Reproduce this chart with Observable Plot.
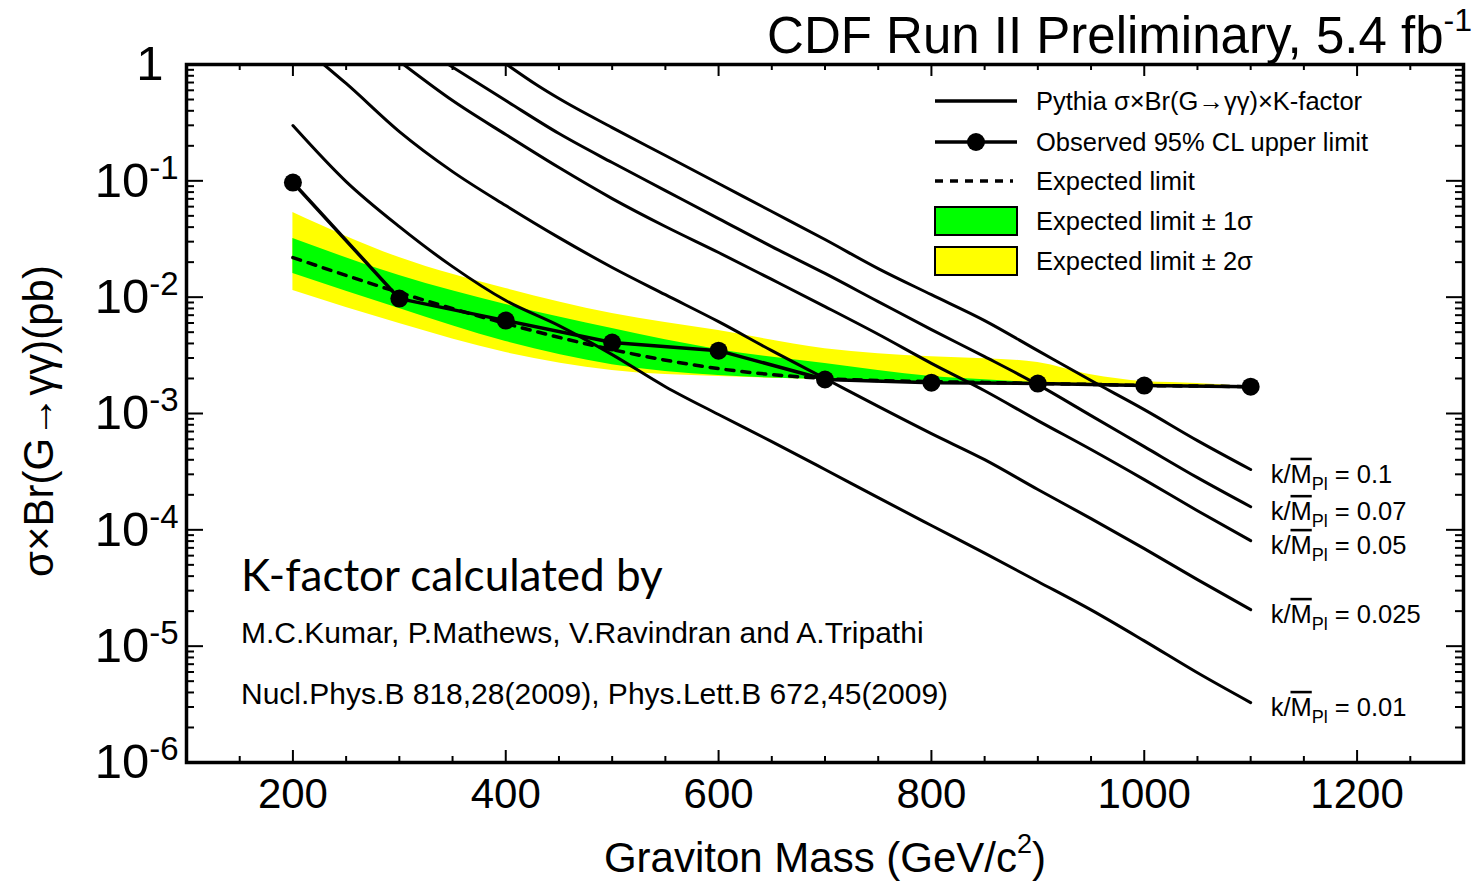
<!DOCTYPE html>
<html><head><meta charset="utf-8">
<script src="https://cdn.jsdelivr.net/npm/d3@7"></script>
<script src="https://cdn.jsdelivr.net/npm/@observablehq/plot@0.6"></script>
<style>
body{margin:0;background:#fff;}
svg{overflow:visible}
</style></head><body><div id="chart"></div>
<script>
// ---- Observed 95% CL upper limit ----
const obsMass  = [200, 300, 400, 500, 600, 700, 800, 900, 1000, 1100];
const obsLimit = [0.0967, 0.00972, 0.00629, 0.00407, 0.00347, 0.00196, 0.00184, 0.00181, 0.00174, 0.00170];

// ---- Expected limit and bands ----
const bandMass = [200, 300, 400, 500, 600, 700, 800, 850, 900, 950, 1000, 1050, 1100];
const expLimit = [0.0219, 0.01096, 0.00593, 0.00354, 0.00243, 0.00200, 0.00188, 0.00185, 0.00181, 0.00178, 0.00174, 0.00172, 0.00170];
const plus1    = [0.0319, 0.01534, 0.00863, 0.00537, 0.00354, 0.00269, 0.00208, 0.00195, 0.00184, 0.00179, 0.00175, 0.00172, 0.00170];
const minus1   = [0.01595, 0.00798, 0.00415, 0.00263, 0.00212, 0.00196, 0.00184, 0.00182, 0.00181, 0.00178, 0.00174, 0.00172, 0.00170];
const plus2    = [0.0534, 0.0219, 0.01186, 0.00723, 0.00516, 0.00361, 0.00308, 0.00296, 0.00274, 0.00215, 0.00188, 0.00181, 0.00170];
const minus2   = [0.0114, 0.00593, 0.00334, 0.00234, 0.00208, 0.00196, 0.00184, 0.00182, 0.00181, 0.00178, 0.00174, 0.00172, 0.00170];

// ---- Pythia sigma x Br x K-factor curves ----
const k01Mass  = [401, 430, 450, 500, 550, 600, 650, 700, 750, 800, 850, 900, 950, 1000, 1050, 1100];
const k01Xsec  = [1.0, 0.660, 0.510, 0.287, 0.165, 0.0948, 0.0545, 0.0313, 0.0176, 0.0105, 0.00629, 0.00347, 0.00192, 0.00108, 5.85e-4, 3.30e-4];
const k007Mass = [346, 400, 450, 500, 550, 600, 650, 700, 750, 800, 850, 900, 950, 1000, 1050, 1100];
const k007Xsec = [1.0, 0.490, 0.255, 0.1436, 0.0825, 0.0474, 0.0272, 0.0160, 0.00916, 0.00526, 0.00308, 0.00177, 9.59e-4, 5.19e-4, 2.81e-4, 1.58e-4];
const k005Mass = [304, 350, 400, 450, 500, 550, 600, 650, 700, 750, 800, 850, 900, 950, 1000, 1050, 1100];
const k005Xsec = [1.0, 0.490, 0.250, 0.130, 0.0704, 0.0405, 0.0242, 0.0142, 0.00830, 0.00480, 0.00270, 0.00157, 8.69e-4, 4.90e-4, 2.70e-4, 1.46e-4, 8.07e-5];
const k0025Mass = [229, 250, 300, 350, 400, 450, 500, 550, 600, 650, 700, 750, 800, 850, 900, 950, 1000, 1050, 1100];
const k0025Xsec = [1.0, 0.687, 0.265, 0.120, 0.0613, 0.0325, 0.0180, 0.0105, 0.00616, 0.00347, 0.00200, 0.00115, 6.71e-4, 4.01e-4, 2.22e-4, 1.25e-4, 6.89e-5, 3.73e-5, 2.06e-5];
const k001Mass = [200, 250, 300, 350, 400, 450, 500, 550, 600, 650, 700, 750, 800, 850, 900, 950, 1000, 1050, 1100];
const k001Xsec = [0.299, 0.0986, 0.0404, 0.0183, 0.00935, 0.00570, 0.00321, 0.00170, 9.8e-4, 5.73e-4, 3.30e-4, 1.89e-4, 1.09e-4, 6.30e-5, 3.60e-5, 2.05e-5, 1.11e-5, 5.90e-6, 3.27e-6];
const kLabels = ["0.1", "0.07", "0.05", "0.025", "0.01"];

// ---- Axis ticks ----
const xLabelTicks = [200, 400, 600, 800, 1000, 1200];
const xMinorTicks = [150, 250, 300, 350, 450, 500, 550, 650, 700, 750, 850, 900, 950, 1050, 1100, 1150, 1250];
const yDecades = [1, 1e-1, 1e-2, 1e-3, 1e-4, 1e-5, 1e-6];
const yMinorMult = [2, 3, 4, 5, 6, 7, 8, 9];

// ---- build tables ----
const obs = obsMass.map((m, i) => ({m, v: obsLimit[i]}));
const band = bandMass.map((m, i) => ({m, exp: expLimit[i], p1: plus1[i], m1: minus1[i], p2: plus2[i], m2: minus2[i]}));
const curveSets = [[k01Mass, k01Xsec], [k007Mass, k007Xsec], [k005Mass, k005Xsec], [k0025Mass, k0025Xsec], [k001Mass, k001Xsec]];
const theory = curveSets.flatMap(([ms, vs], j) => ms.map((m, i) => ({k: kLabels[j], m, v: vs[i]})));
const curveEnds = curveSets.map(([ms, vs], j) => ({k: kLabels[j], m: ms[ms.length - 1], v: vs[vs.length - 1]}));
const yMinor = yDecades.slice(1).flatMap(d => yMinorMult.map(k => k * d));

const W = 1477, H = 881, mT = 64, mB = 119, mL = 186, mR = 14;
const innerH = H - mT - mB, innerW = W - mL - mR;
const FONT = "Liberation Sans, Arial, Helvetica, sans-serif";

const plot = Plot.plot({
  width: W, height: H,
  marginTop: mT, marginBottom: mB, marginLeft: mL, marginRight: mR,
  style: {fontFamily: FONT, background: "white", color: "black"},
  x: {domain: [100, 1300]},
  y: {type: "log", domain: [1e-6, 1]},
  marks: [
    Plot.areaY(band, {x: "m", y1: "m2", y2: "p2", fill: "#ffff00", curve: "monotone-x"}),
    Plot.areaY(band, {x: "m", y1: "m1", y2: "p1", fill: "#00ff00", curve: "monotone-x"}),
    Plot.line(theory, {x: "m", y: "v", z: "k", stroke: "black", strokeWidth: 3, curve: "monotone-x", clip: true}),
    Plot.line(band, {x: "m", y: "exp", stroke: "black", strokeWidth: 3.5, strokeDasharray: "8,8", curve: "monotone-x"}),
    Plot.line(obs, {x: "m", y: "v", stroke: "black", strokeWidth: 3.5}),
    Plot.dot(obs, {x: "m", y: "v", r: 9, fill: "black", stroke: "none"}),
    Plot.text(curveEnds, {x: "m", y: "v", text: d => "k/M_Pl = " + d.k, dx: 20, dy: 5, textAnchor: "start", fontSize: 25.5, ariaLabel: "klabel"}),
    // ticks (inward)
    Plot.ruleX(xLabelTicks, {x: d => d, insetTop: innerH - 12, strokeWidth: 2}),
    Plot.ruleX(xLabelTicks, {x: d => d, insetBottom: innerH - 12, strokeWidth: 2}),
    Plot.ruleX(xMinorTicks, {x: d => d, insetTop: innerH - 6, strokeWidth: 2}),
    Plot.ruleX(xMinorTicks, {x: d => d, insetBottom: innerH - 6, strokeWidth: 2}),
    Plot.ruleY(yDecades, {y: d => d, insetRight: innerW - 17, strokeWidth: 2}),
    Plot.ruleY(yDecades, {y: d => d, insetLeft: innerW - 17, strokeWidth: 2}),
    Plot.ruleY(yMinor, {y: d => d, insetRight: innerW - 8, strokeWidth: 2}),
    Plot.ruleY(yMinor, {y: d => d, insetLeft: innerW - 8, strokeWidth: 2}),
    Plot.frame({stroke: "black", strokeWidth: 3.5}),
    Plot.axisX(xLabelTicks, {anchor: "bottom", tickSize: 0, tickPadding: 16, fontSize: 42, label: null, tickFormat: d => String(d)}),
    Plot.axisY(yDecades, {anchor: "left", tickSize: 0, tickPadding: 8, fontSize: 49, label: null,
      tickFormat: d => d === 1 ? "1" : "10^" + Math.round(Math.log10(d))})
  ]
});
document.getElementById("chart").appendChild(plot);

const svg = d3.select(plot);
// superscripts / subscripts in labels
svg.selectAll("text").each(function() {
  const t = this.textContent;
  const sel = d3.select(this);
  if (t === "1" && this.getAttribute("font-size") === null) {
    sel.attr("dx", -15);
  }
  if (/^10\^/.test(t)) {
    const exp = t.slice(3);
    sel.text(null);
    sel.append("tspan").text("10");
    sel.append("tspan").attr("font-size", "33").attr("dy", "-18").text(exp);
  }
  if (/^k\/M_Pl = /.test(t)) {
    const val = t.replace("k/M_Pl = ", "");
    sel.text(null);
    sel.append("tspan").text("k/");
    sel.append("tspan").style("text-decoration", "overline").text("M");
    sel.append("tspan").attr("font-size", "18").attr("dy", "7").text("Pl");
    sel.append("tspan").attr("dy", "-7").text(" = " + val);
  }
});

function addText(x, y, size, family, anchor) {
  return svg.append("text").attr("x", x).attr("y", y).attr("font-size", size)
    .attr("font-family", family).attr("text-anchor", anchor).attr("fill", "black");
}

// Title
const title = addText(1472, 53, 51, FONT, "end");
title.append("tspan").text("CDF Run II Preliminary, 5.4 fb");
title.append("tspan").attr("font-size", 32).attr("dy", -22).text("-1");

// Axis titles
const xt = addText(825, 872, 42, FONT, "middle");
xt.append("tspan").text("Graviton Mass (GeV/c");
xt.append("tspan").attr("font-size", 27).attr("dy", -19).text("2");
xt.append("tspan").attr("dy", 19).text(")");

svg.append("text").attr("transform", "translate(53,421) rotate(-90)").attr("text-anchor", "middle")
  .attr("font-size", 42).attr("font-family", FONT).text("σ×Br(G→γγ)(pb)");

// Annotations
addText(241, 591, 44, "Lato, sans-serif", "start").text("K-factor calculated by");
addText(241, 643, 30, FONT, "start").text("M.C.Kumar, P.Mathews, V.Ravindran and A.Tripathi");
addText(241, 704, 30, FONT, "start").text("Nucl.Phys.B 818,28(2009), Phys.Lett.B 672,45(2009)");

// Legend
const lg = svg.append("g");
const rows = [101, 142, 181, 221, 261];
const lx0 = 935, lx1 = 1017, tx = 1036;
lg.append("line").attr("x1", lx0).attr("x2", lx1).attr("y1", rows[0]).attr("y2", rows[0]).attr("stroke", "black").attr("stroke-width", 3.5);
lg.append("line").attr("x1", lx0).attr("x2", lx1).attr("y1", rows[1]).attr("y2", rows[1]).attr("stroke", "black").attr("stroke-width", 3.5);
lg.append("circle").attr("cx", (lx0 + lx1) / 2).attr("cy", rows[1]).attr("r", 9);
lg.append("line").attr("x1", lx0).attr("x2", lx1 - 4).attr("y1", rows[2]).attr("y2", rows[2]).attr("stroke", "black").attr("stroke-width", 3.5).attr("stroke-dasharray", "8,7");
lg.append("rect").attr("x", lx0).attr("y", rows[3] - 14).attr("width", lx1 - lx0).attr("height", 28).attr("fill", "#00ff00").attr("stroke", "black").attr("stroke-width", 2);
lg.append("rect").attr("x", lx0).attr("y", rows[4] - 14).attr("width", lx1 - lx0).attr("height", 28).attr("fill", "#ffff00").attr("stroke", "black").attr("stroke-width", 2);
const ltexts = ["Pythia σ×Br(G→γγ)×K-factor", "Observed 95% CL upper limit", "Expected limit", "Expected limit ± 1σ", "Expected limit ± 2σ"];
ltexts.forEach((t, i) => addText(tx, rows[i] + 9, 25.5, FONT, "start").text(t));
</script>
</body></html>
